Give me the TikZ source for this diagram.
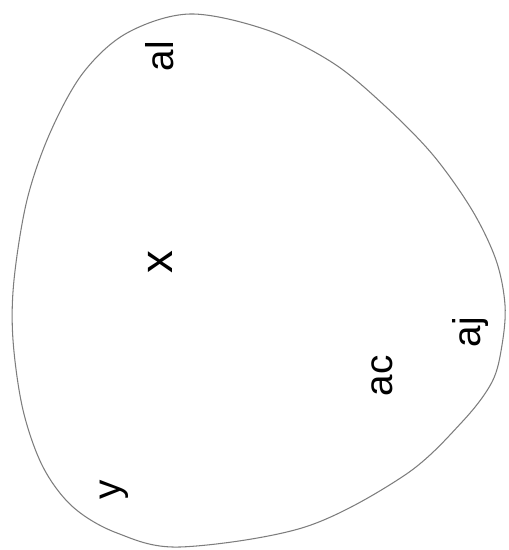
\documentclass[tikz,border=0pt]{standalone}
\usepackage{fontspec}
\setmainfont{Liberation Sans}
\usetikzlibrary{positioning}
\definecolor{rim}{RGB}{125,125,125}

\begin{document}
\begin{tikzpicture}[x=0.02cm, y=-0.02cm,
  lbl/.style={font=\fontsize{22}{26}\selectfont, rotate=90, inner sep=0pt}]
  \useasboundingbox (0,0) rectangle (508,550);
  % region boundary
  \draw[rim, line width=0.6pt] plot[smooth cycle, tension=0.55] coordinates {
    (190,14) (267,30) (333,63) (385,106) (433,155) (472,210) (496,260)
    (505,305) (502,345) (492,382) (462,422) (405,475) (305,527)
    (180,547) (117,533) (73,507) (43,467) (23,410) (13,340) (14,280)
    (27,200) (50,133) (83,73) (127,33)};
  % labels
  \foreach \nm/\px/\py in {al/160/56, ac/382/376, aj/470/332, y/114/490}
    \node[lbl] (\nm) at (\px,\py) {\nm};
  \node[lbl, font=\fontsize{26}{30}\selectfont] (x) at (160,262) {x};
\end{tikzpicture}
\end{document}
